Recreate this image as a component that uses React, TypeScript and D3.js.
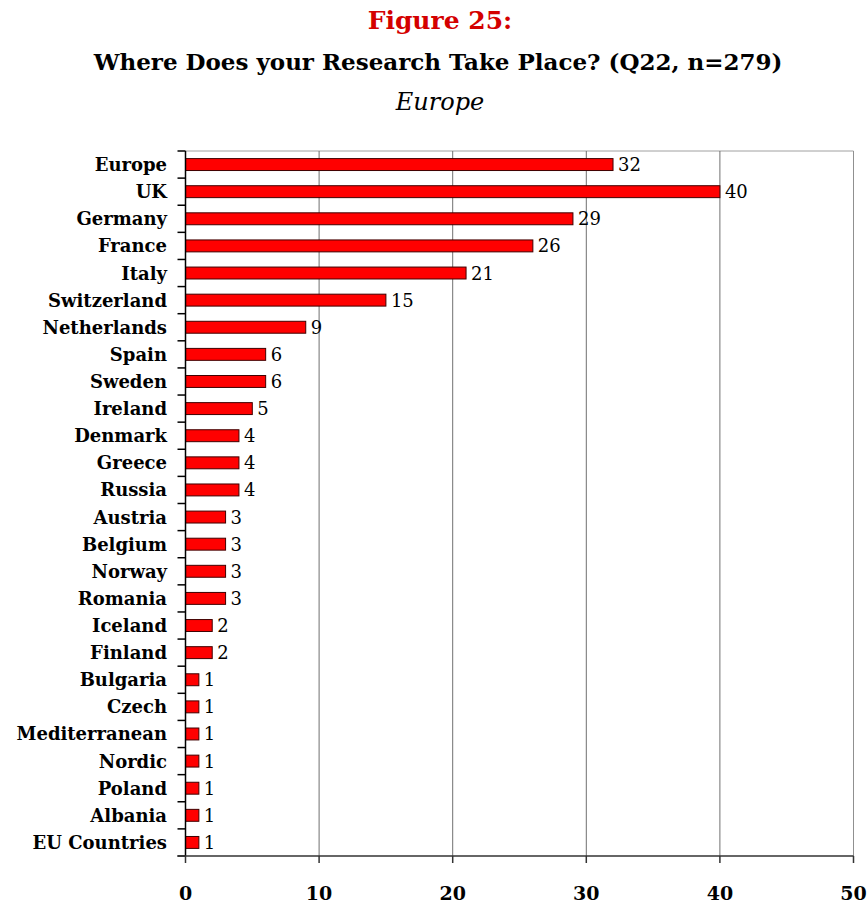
import React from "react";
import * as d3 from "d3";

const categories = [
  "Europe", "UK", "Germany", "France", "Italy", "Switzerland", "Netherlands",
  "Spain", "Sweden", "Ireland", "Denmark", "Greece", "Russia", "Austria",
  "Belgium", "Norway", "Romania", "Iceland", "Finland", "Bulgaria", "Czech",
  "Mediterranean", "Nordic", "Poland", "Albania", "EU Countries",
];
const values = [32, 40, 29, 26, 21, 15, 9, 6, 6, 5, 4, 4, 4, 3, 3, 3, 3, 2, 2, 1, 1, 1, 1, 1, 1, 1];
const xTicks = [0, 10, 20, 30, 40, 50];

const W = 867, H = 905;
const left = 185.5, right = 853.5, top = 151, bottom = 856;
const FONT = "'DejaVu Serif', serif";

export default function App() {
  const x = d3.scaleLinear().domain([0, 50]).range([left, right]);
  const y = d3.scaleBand<string>().domain(categories).range([top, bottom]).paddingInner(0.56).paddingOuter(0.28);
  const bandStep = (bottom - top) / categories.length;
  const boundaries = d3.range(categories.length + 1).map((i) => top + i * bandStep);

  return (
    <svg width={W} height={H} style={{ position: "absolute", left: 0, top: 0, background: "#fff" }} fontFamily={FONT}>
      <text x={440} y={29} textAnchor="middle" fontSize={25} fontWeight="bold" fill="#d40000">Figure 25:</text>
      <text x={438} y={70} textAnchor="middle" fontSize={23} fontWeight="bold" fill="#000">Where Does your Research Take Place? (Q22, n=279)</text>
      <text x={440} y={110} textAnchor="middle" fontSize={24} fontStyle="italic" fill="#000">Europe</text>

      {/* plot frame */}
      <line x1={left} x2={right} y1={top} y2={top} stroke="#a0a0a0" strokeWidth={1} />
      <line x1={right} x2={right} y1={top} y2={bottom} stroke="#909090" strokeWidth={1} />
      {xTicks.slice(1, -1).map((t) => (
        <line key={t} x1={x(t)} x2={x(t)} y1={top} y2={bottom} stroke="#707070" strokeWidth={1} />
      ))}

      {/* bars */}
      {categories.map((c, i) => (
        <g key={c}>
          <rect x={x(0)} y={y(c)!} width={x(values[i]) - x(0)} height={y.bandwidth()} fill="#ff0000" stroke="#400000" strokeWidth={1} />
          <text x={x(values[i]) + 5} y={y(c)! + y.bandwidth() / 2} dominantBaseline="central" fontSize={18} fill="#000">{values[i]}</text>
          <text x={167} y={top + bandStep * (i + 0.5)} dominantBaseline="central" textAnchor="end" fontSize={18} fontWeight="bold" fill="#000">{c}</text>
        </g>
      ))}

      {/* axes */}
      <line x1={left} x2={left} y1={top} y2={bottom} stroke="#000" strokeWidth={1.5} />
      {boundaries.map((b, i) => (
        <line key={i} x1={left - 8} x2={left} y1={b} y2={b} stroke="#000" strokeWidth={1.5} />
      ))}
      <line x1={left - 8} x2={right} y1={bottom} y2={bottom} stroke="#333" strokeWidth={1.5} />
      {xTicks.map((t) => (
        <g key={t}>
          <line x1={x(t)} x2={x(t)} y1={bottom} y2={bottom + 7} stroke="#333" strokeWidth={1.5} />
          <text x={x(t)} y={900} textAnchor="middle" fontSize={19} fontWeight="bold" fill="#000">{t}</text>
        </g>
      ))}
    </svg>
  );
}
